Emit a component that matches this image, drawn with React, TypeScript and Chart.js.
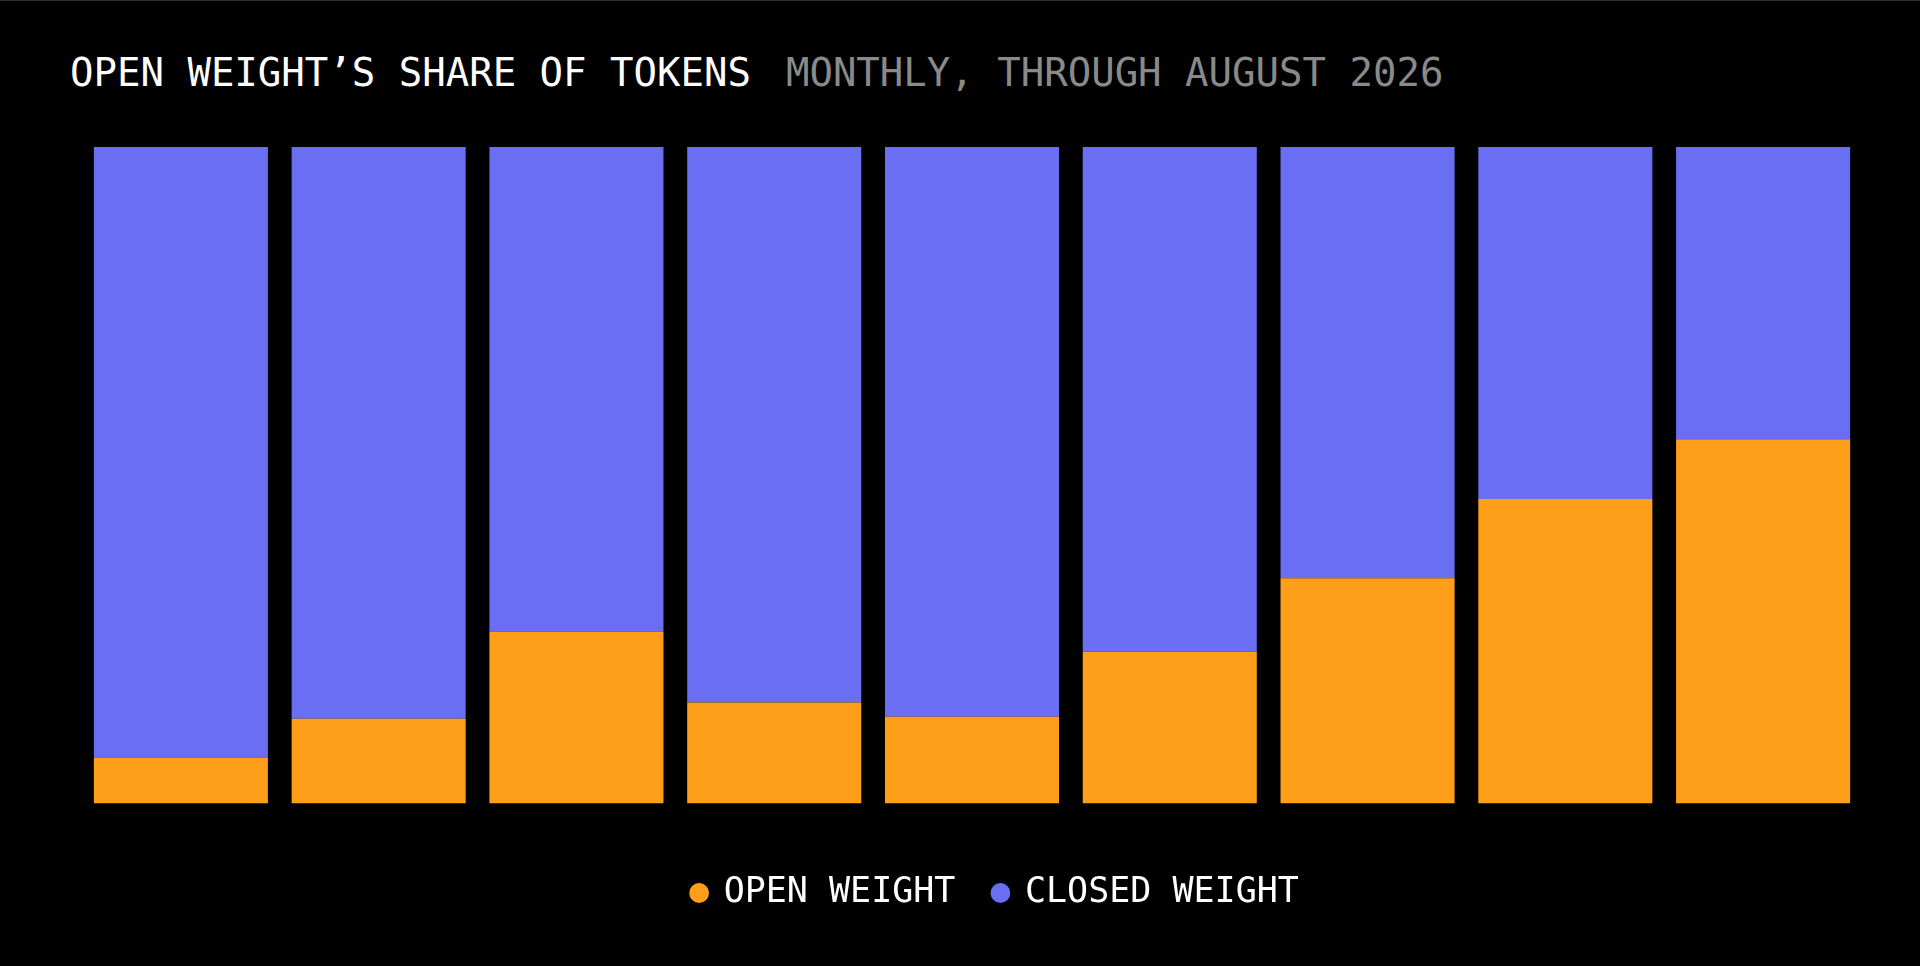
import React, { useEffect, useRef } from "react";
import { Chart, registerables } from "chart.js";

Chart.register(...registerables);

// months through August 2026 (labels are not drawn in the picture)
const months = ["DEC 2025", "JAN 2026", "FEB 2026", "MAR 2026", "APR 2026", "MAY 2026", "JUN 2026", "JUL 2026", "AUG 2026"];
const openShare = [7.0, 12.9, 26.2, 15.4, 13.2, 23.1, 34.3, 46.4, 55.5];
const closedShare = [93.0, 87.1, 73.8, 84.6, 86.8, 76.9, 65.7, 53.6, 44.5];

const ORANGE = "#ff9e18";
const BLUE = "#6a6ef2";
const MONO = "'DejaVu Sans Mono', monospace";

const App: React.FC = () => {
  const canvasRef = useRef<HTMLCanvasElement | null>(null);
  const chartRef = useRef<Chart | null>(null);

  useEffect(() => {
    document.body.style.margin = "0";
    document.body.style.background = "#000";
    const ctx = canvasRef.current?.getContext("2d");
    if (!ctx) return;
    chartRef.current?.destroy();

    chartRef.current = new Chart(ctx, {
      type: "bar",
      data: {
        labels: months,
        datasets: [
          {
            label: "OPEN WEIGHT",
            data: openShare,
            backgroundColor: ORANGE,
            borderWidth: 0,
            categoryPercentage: 0.88,
            barPercentage: 1,
          },
          {
            label: "CLOSED WEIGHT",
            data: closedShare,
            backgroundColor: BLUE,
            borderWidth: 0,
            categoryPercentage: 0.88,
            barPercentage: 1,
          },
        ],
      },
      options: {
        animation: false,
        responsive: true,
        maintainAspectRatio: false,
        layout: { padding: { left: 82, right: 11, top: 147, bottom: 45.5 } },
        plugins: {
          legend: {
            position: "bottom",
            labels: {
              color: "#ffffff",
              font: { family: MONO, size: 35 },
              usePointStyle: true,
              pointStyle: "circle",
              boxWidth: 14,
              boxHeight: 14,
              padding: 38,
            },
          },
          tooltip: { enabled: false },
        },
        scales: {
          x: {
            stacked: true,
            grid: { display: false },
            border: { display: false },
            ticks: { display: false },
            afterFit: (scale: any) => {
              scale.height = 34;
            },
          },
          y: {
            stacked: true,
            position: "right",
            min: 0,
            max: 100,
            grid: { display: false },
            border: { display: false },
            ticks: { display: false },
            afterFit: (scale: any) => {
              scale.width = 47;
            },
          },
        },
      },
    });

    return () => {
      chartRef.current?.destroy();
      chartRef.current = null;
    };
  }, []);

  return (
    <div style={{ position: "fixed", inset: 0, background: "#000", overflow: "hidden" }}>
      <div style={{ position: "absolute", top: 0, left: 0, right: 0, height: 1, background: "#2e2e2e" }} />
      <div
        style={{
          position: "absolute",
          left: 70,
          top: 53,
          fontFamily: MONO,
          fontSize: 39,
          lineHeight: 1,
          whiteSpace: "nowrap",
          display: "flex",
          gap: 35,
        }}
      >
        <span style={{ color: "#ffffff" }}>OPEN WEIGHT’S SHARE OF TOKENS</span>
        <span style={{ color: "#8a8a8a" }}>MONTHLY, THROUGH AUGUST 2026</span>
      </div>
      <div style={{ position: "absolute", left: 0, top: 0, width: 1920, height: 966 }}>
        <canvas ref={canvasRef}></canvas>
      </div>
    </div>
  );
};

export default App;
